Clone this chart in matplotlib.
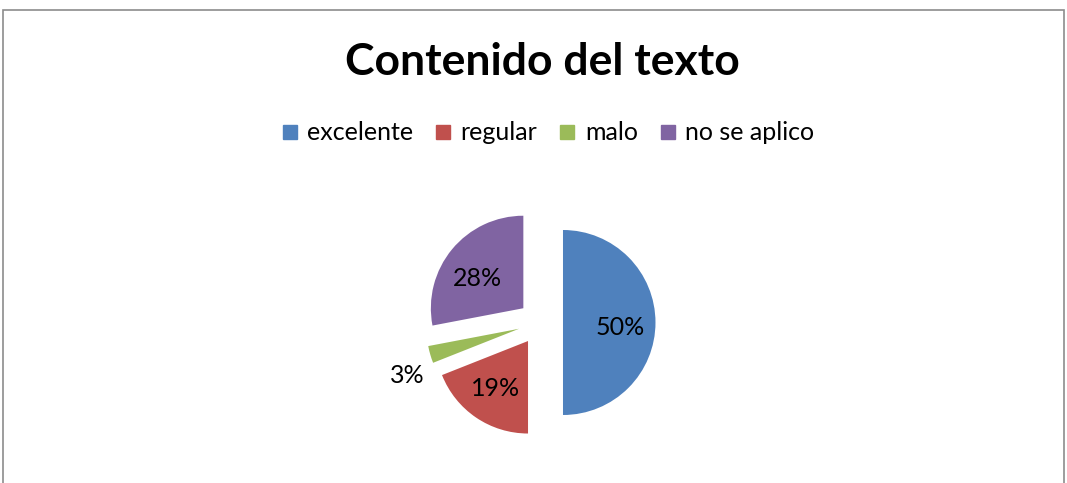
import numpy as np
import matplotlib
matplotlib.use('Agg')
import matplotlib.pyplot as plt
from matplotlib.patches import Rectangle
from matplotlib.lines import Line2D

plt.rcParams['font.family'] = ['Lato', 'DejaVu Sans']

# datos
categorias = ['excelente', 'regular', 'malo', 'no se aplico']
porcentajes = [50, 19, 3, 28]
colores = ['#4F81BD', '#C0504D', '#9BBB59', '#8064A2']
titulo = 'Contenido del texto'

W, H = 1067, 483
fig = plt.figure(figsize=(W / 100, H / 100), dpi=100)
ax = fig.add_axes([0, 0, 1, 1])

# marco del grafico
fig.patches.append(Rectangle((3 / W, -0.1), (1064 - 3) / W, 1.1 - 10 / H,
                             transform=fig.transFigure, fill=False,
                             edgecolor='#8c8c8c', linewidth=1.2))

radio = 92.5
wedges, textos, pcts = ax.pie(porcentajes, colors=colores, startangle=90,
                              counterclock=False, radius=radio,
                              center=(540.6, H - 322.5),
                              explode=[0.242 * radio] * 4,
                              autopct='%1.0f%%', pctdistance=0.6,
                              textprops={'fontsize': 18, 'color': 'black'},
                              wedgeprops={'linewidth': 0})
ax.set_xlim(0, W)
ax.set_ylim(0, H)
ax.set_aspect('equal')
ax.axis('off')

# posicion de etiquetas: distancia (fraccion del radio) y giro (grados)
dist_etiqueta = [0.62, 0.62, 1.31, 0.59]
giro_etiqueta = [-5, 0, 6.5, 6]
for w, t, d, g in zip(wedges, pcts, dist_etiqueta, giro_etiqueta):
    ang = np.deg2rad((w.theta1 + w.theta2) / 2 + g)
    cx, cy = w.center
    t.set_position((cx + d * radio * np.cos(ang), cy + d * radio * np.sin(ang)))
    t.set_ha('center')
    t.set_va('center')

fig.text(542 / W, 1 - 62 / H, titulo, ha='center', va='center',
         fontsize=32, fontweight='bold')

handles = [Line2D([0], [0], marker='s', linestyle='none', markersize=10,
                  markerfacecolor=c, markeredgecolor=c) for c in colores]
fig.legend(handles, categorias, loc='center', bbox_to_anchor=(547 / W, 1 - 133 / H),
           ncol=4, frameon=False, fontsize=18, handletextpad=0.3,
           columnspacing=0.8, handlelength=0.8)

fig.savefig('out.png', dpi=100)
